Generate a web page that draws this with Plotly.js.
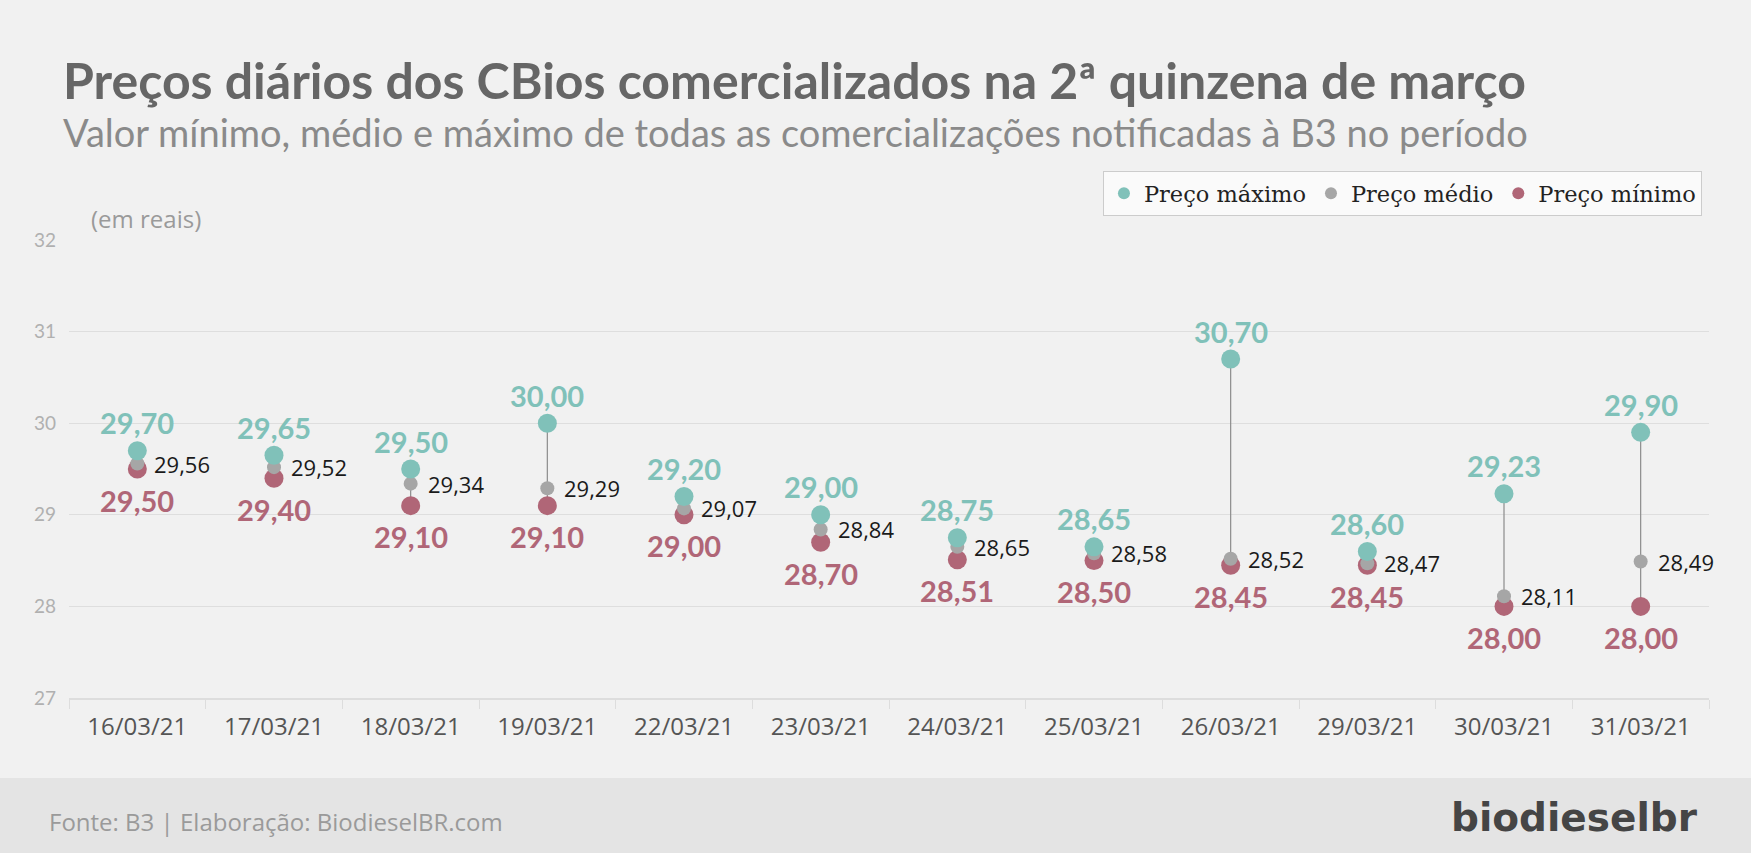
<!DOCTYPE html>
<html>
<head>
<meta charset="utf-8">
<script src="https://cdn.plot.ly/plotly-3.0.1.min.js"></script>
<style>
  html, body { margin: 0; padding: 0; background: #f1f1f1; }
  #chart { width: 1751px; height: 853px; }
</style>
</head>
<body>
<div id="chart"></div>
<script>
// ─── data ──────────────────────────────────────────────
var dates = ['16/03/21', '17/03/21', '18/03/21', '19/03/21', '22/03/21', '23/03/21',
             '24/03/21', '25/03/21', '26/03/21', '29/03/21', '30/03/21', '31/03/21'];
var precoMaximo = [29.70, 29.65, 29.50, 30.00, 29.20, 29.00, 28.75, 28.65, 30.70, 28.60, 29.23, 29.90];
var precoMedio  = [29.56, 29.52, 29.34, 29.29, 29.07, 28.84, 28.65, 28.58, 28.52, 28.47, 28.11, 28.49];
var precoMinimo = [29.50, 29.40, 29.10, 29.10, 29.00, 28.70, 28.51, 28.50, 28.45, 28.45, 28.00, 28.00];

var COL_MAX = '#80c1b9', COL_MED = '#a6a6a6', COL_MIN = '#b06677';
var NUM_FONT = 'Lato, "Open Sans", sans-serif';
var TXT_FONT = '"Open Sans", Lato, sans-serif';

function br(v) { return v.toFixed(2).replace('.', ','); }

// vertical connector max -> min for each day
var segX = [], segY = [];
dates.forEach(function (d, i) {
  segX.push(d, d, null);
  segY.push(precoMaximo[i], precoMinimo[i], null);
});

var traces = [
  { type: 'scatter', mode: 'lines', x: segX, y: segY, showlegend: false, hoverinfo: 'skip',
    line: { color: '#8c8c8c', width: 1.2 } },
  { type: 'scatter', mode: 'markers', name: 'Preço mínimo', legendrank: 3, x: dates, y: precoMinimo,
    marker: { color: COL_MIN, size: 19 } },
  { type: 'scatter', mode: 'markers', name: 'Preço médio', legendrank: 2, x: dates, y: precoMedio,
    marker: { color: COL_MED, size: 14 } },
  { type: 'scatter', mode: 'markers', name: 'Preço máximo', legendrank: 1, x: dates, y: precoMaximo,
    marker: { color: COL_MAX, size: 19 } }
];

var annotations = [];
dates.forEach(function (d, i) {
  annotations.push({ x: d, y: precoMaximo[i], xref: 'x', yref: 'y', text: br(precoMaximo[i]),
    showarrow: false, yanchor: 'middle', yshift: 28,
    font: { family: NUM_FONT, size: 29, color: COL_MAX, weight: 'bold' } });
  annotations.push({ x: d, y: precoMinimo[i], xref: 'x', yref: 'y', text: br(precoMinimo[i]),
    showarrow: false, yanchor: 'middle', yshift: -31,
    font: { family: NUM_FONT, size: 29, color: COL_MIN, weight: 'bold' } });
  annotations.push({ x: d, y: precoMedio[i], xref: 'x', yref: 'y', text: br(precoMedio[i]),
    showarrow: false, xanchor: 'left', yanchor: 'middle', xshift: 15,
    font: { family: TXT_FONT, size: 22, color: '#1a1a1a' } });
});

// titles, unit note, footer
annotations.push(
  { xref: 'paper', yref: 'paper', x: -0.005, y: 1.349, xanchor: 'left', yanchor: 'middle', showarrow: false,
    text: 'Preços diários dos CBios comercializados na 2ª quinzena de março',
    font: { family: NUM_FONT, size: 50, color: '#666666', weight: 'bold' } },
  { xref: 'paper', yref: 'paper', x: -0.005, y: 1.236, xanchor: 'left', yanchor: 'middle', showarrow: false,
    text: 'Valor mínimo, médio e máximo de todas as comercializações notificadas à B3 no período',
    font: { family: NUM_FONT, size: 38, color: '#8a8a8a' } },
  { xref: 'paper', yref: 'paper', x: 0.012, y: 1.048, xanchor: 'left', yanchor: 'middle', showarrow: false,
    text: '(em reais)', font: { family: TXT_FONT, size: 24, color: '#9a9a9a' } },
  { xref: 'paper', yref: 'paper', x: -0.0134, y: -0.2686, xanchor: 'left', yanchor: 'middle', showarrow: false,
    text: 'Fonte: B3 | Elaboração: BiodieselBR.com', font: { family: TXT_FONT, size: 24, color: '#9a9a9a' } },
  { xref: 'paper', yref: 'paper', x: 0.9945, y: -0.262, xanchor: 'right', yanchor: 'middle', showarrow: false,
    text: 'biodieselbr', font: { family: '"DejaVu Sans", sans-serif', size: 39, color: '#454545', weight: 'bold' } }
);

var layout = {
  width: 1751, height: 853,
  margin: { l: 69, r: 42, t: 240, b: 155 },
  paper_bgcolor: '#f1f1f1', plot_bgcolor: '#f1f1f1',
  showlegend: true,
  legend: {
    orientation: 'h', x: 0.9957, xanchor: 'right', y: 1.052, yanchor: 'bottom',
    bgcolor: '#fafafa', bordercolor: '#cccccc', borderwidth: 1,
    font: { family: '"DejaVu Serif", serif', size: 22.5, color: '#222222' },
    itemsizing: 'constant', traceorder: 'normal'
  },
  xaxis: {
    type: 'category', range: [-0.5, 11.5], tickson: 'boundaries', ticks: 'outside', ticklen: 9,
    tickcolor: '#dddddd', showgrid: false, showline: true, linecolor: '#dddddd', linewidth: 1.5,
    ticklabelstandoff: 7,
    tickfont: { family: TXT_FONT, size: 24, color: '#555555' }, fixedrange: true
  },
  yaxis: {
    range: [27, 32], dtick: 1, tick0: 27, showgrid: true, gridcolor: '#dedede', gridwidth: 1,
    zeroline: false, ticks: '', ticklabelstandoff: 12,
    tickfont: { family: NUM_FONT, size: 19, color: '#b0b0b0' }, fixedrange: true
  },
  shapes: [
    { type: 'rect', xref: 'paper', yref: 'paper', x0: -0.1, x1: 1.1, y0: -0.1747, y1: -0.4,
      fillcolor: '#e4e4e4', line: { width: 0 }, layer: 'below' }
  ],
  annotations: annotations
};

Plotly.newPlot('chart', traces, layout, { displayModeBar: false, staticPlot: true });
</script>
</body>
</html>
